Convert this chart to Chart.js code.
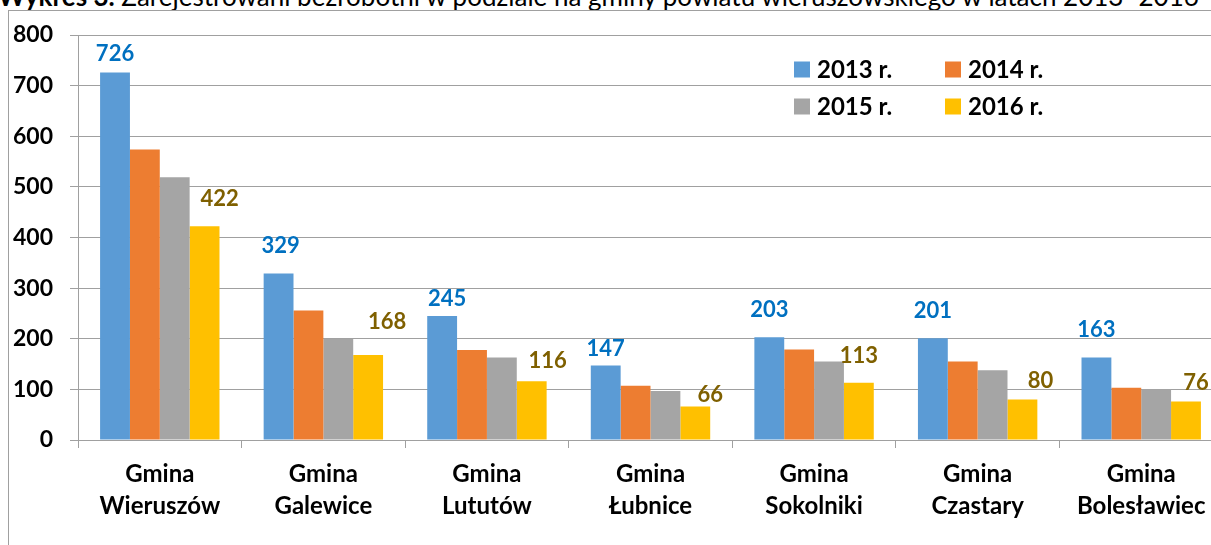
<!DOCTYPE html>
<html lang="pl">
<head>
<meta charset="utf-8">
<title>Wykres 3</title>
<script src="https://cdn.jsdelivr.net/npm/chart.js@4/dist/chart.umd.min.js"></script>
<style>
  html, body { margin: 0; padding: 0; background: #fff; overflow: hidden; width: 1211px; height: 545px; }
  #title { position: absolute; left: -2px; top: -17px; white-space: nowrap; font-family: Lato, sans-serif; font-size: 26px; line-height: 26px; color: #000; }
  #frame { position: absolute; left: 8px; top: 10px; width: 1300px; height: 600px; border: 1px solid #a0a0a0; box-sizing: border-box; }
  #chart { position: absolute; left: 0; top: 0; }
</style>
</head>
<body>
<div id="title"><b>Wykres 3.</b> Zarejestrowani bezrobotni w podziale na gminy powiatu wieruszowskiego w latach 2013–2016</div>
<div id="frame"></div>
<canvas id="chart" width="1240" height="545"></canvas>
<script>
// kategorie (gminy) i serie
const gminy = [
  ['Gmina', 'Wieruszów'], ['Gmina', 'Galewice'], ['Gmina', 'Lututów'], ['Gmina', 'Łubnice'],
  ['Gmina', 'Sokolniki'], ['Gmina', 'Czastary'], ['Gmina', 'Bolesławiec']
];
const lata = ['2013 r.', '2014 r.', '2015 r.', '2016 r.'];
const r2013 = [726, 329, 245, 147, 203, 201, 163];
const r2014 = [574, 256, 178, 107, 179, 155, 103];
const r2015 = [519, 200, 163, 97, 155, 138, 100];
const r2016 = [422, 168, 116, 66, 113, 80, 76];

const kolory = ['#5B9BD5', '#ED7D31', '#A5A5A5', '#FFC000'];

// przesunięcia etykiet (jak w oryginale, ręcznie przesuwane w Excelu)
const przesun2013 = [[0, -19], [2, -28], [5, -17], [0, -17], [0, -27], [0, -27], [0, -28]];
const przesun2016 = [[15, -27], [19, -33], [16, -20], [15, -12], [0, -27], [18, -19], [10, -19]];

const FONT = 'Lato, "Open Sans", sans-serif';

const etykiety = {
  id: 'etykiety',
  afterDatasetsDraw(chart) {
    const ctx = chart.ctx;
    ctx.save();
    ctx.font = 'bold 22px ' + FONT;
    ctx.textAlign = 'center';
    ctx.textBaseline = 'middle';
    [[0, '#0070C0', przesun2013], [3, '#7F6000', przesun2016]].forEach(([ds, kolor, off]) => {
      const meta = chart.getDatasetMeta(ds);
      ctx.fillStyle = kolor;
      meta.data.forEach((bar, i) => {
        const v = chart.data.datasets[ds].data[i];
        ctx.fillText(String(v), bar.x + off[i][0], bar.y + off[i][1]);
      });
    });
    ctx.restore();
  }
};

// legenda 2x2 wewnątrz obszaru wykresu
const legenda = {
  id: 'legenda',
  afterDraw(chart) {
    const ctx = chart.ctx;
    const a = chart.chartArea;
    ctx.save();
    ctx.font = 'bold 24px ' + FONT;
    ctx.textBaseline = 'middle';
    ctx.textAlign = 'left';
    chart.data.datasets.forEach((ds, i) => {
      const col = i % 2, row = Math.floor(i / 2);
      const x = a.left + 716 + col * 151;
      const y = a.top + 34.5 + row * 37;
      ctx.fillStyle = ds.backgroundColor;
      ctx.fillRect(x, y - 8, 16, 16);
      ctx.fillStyle = '#000';
      ctx.fillText(ds.label, x + 23, y + 1);
    });
    ctx.restore();
  }
};

const seria = [r2013, r2014, r2015, r2016];

new Chart(document.getElementById('chart'), {
  type: 'bar',
  data: {
    labels: gminy,
    datasets: seria.map((d, i) => ({
      label: lata[i],
      data: d,
      backgroundColor: kolory[i],
      borderWidth: 0,
      categoryPercentage: 0.73,
      barPercentage: 1.0
    }))
  },
  options: {
    responsive: false,
    animation: false,
    layout: { padding: { left: 0, top: 35, right: 17, bottom: 0 } },
    plugins: {
      legend: { display: false },
      tooltip: { enabled: false }
    },
    scales: {
      x: {
        grid: { offset: true, drawOnChartArea: false, drawTicks: true, tickLength: 8, color: '#A0A0A0' },
        border: { color: '#A0A0A0' },
        ticks: { color: '#000', font: { family: FONT, size: 24, weight: 'bold', lineHeight: 1.3 }, padding: 11, maxRotation: 0, autoSkip: false },
        afterFit(s) { s.height = 105; }
      },
      y: {
        min: 0,
        max: 800,
        ticks: { stepSize: 100, color: '#000', font: { family: FONT, size: 23, weight: 'bold' }, padding: 17 },
        grid: { color: '#A0A0A0', tickLength: 8 },
        border: { color: '#A0A0A0' },
        afterFit(s) { s.width = 78; }
      }
    }
  },
  plugins: [etykiety, legenda]
});
</script>
</body>
</html>
